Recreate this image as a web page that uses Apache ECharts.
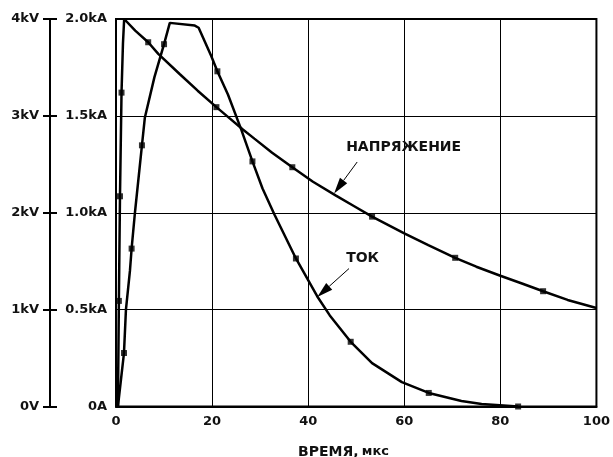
<!DOCTYPE html>
<html><head><meta charset="utf-8">
<script src="https://cdn.jsdelivr.net/npm/echarts@6/dist/echarts.min.js"></script>
<style>html,body{margin:0;padding:0;background:#fff}#c{width:613px;height:457px}</style>
</head><body><div id="c"></div>
<script>
// Time axis (мкс)
const xTicks = [0, 20, 40, 60, 80, 100];
// Left inner axis (current) and outer axis (voltage) labels
const kALabels = ['0A', '0.5kA', '1.0kA', '1.5kA', '2.0kA'];
const kVLabels = ['0V', '1kV', '2kV', '3kV', '4kV'];

// Voltage curve [time µs, kV]
const voltage = [
  [0.4, 0], [0.6, 1.09], [0.83, 2.17], [1.15, 3.24], [1.45, 3.75], [1.7, 4.0],
  [4.0, 3.88], [6.7, 3.76], [8.8, 3.64], [13.3, 3.43], [17.0, 3.26], [20.9, 3.09],
  [23.3, 2.99], [26.4, 2.86], [28.8, 2.765], [32.5, 2.62], [36.7, 2.47], [41.0, 2.32],
  [45.7, 2.18], [49.5, 2.07], [53.3, 1.96], [59.9, 1.79], [65.0, 1.665], [70.6, 1.535],
  [75.0, 1.443], [80.0, 1.35], [84.5, 1.27], [88.9, 1.19], [94.0, 1.10], [100, 1.016]
];
const voltageMarks = [
  [0.6, 1.09], [0.83, 2.17], [1.15, 3.24], [6.7, 3.76], [20.9, 3.09],
  [36.7, 2.47], [53.3, 1.96], [70.6, 1.535], [88.9, 1.19]
];

// Current curve [time µs, kA]
const current = [
  [0.4, 0], [1.66, 0.276], [2.07, 0.50], [2.9, 0.70], [3.25, 0.815], [3.94, 1.0],
  [5.4, 1.348], [6.0, 1.49], [8.0, 1.70], [10.0, 1.87], [11.2, 1.98], [11.5, 1.99],
  [16.4, 1.966], [17.2, 1.955], [19.8, 1.81], [21.1, 1.73], [23.3, 1.61], [26.0, 1.434],
  [28.4, 1.265], [30.5, 1.125], [33.0, 0.99], [37.45, 0.764], [41.9, 0.568], [44.5, 0.47],
  [48.85, 0.334], [53.3, 0.224], [59.5, 0.126], [65.1, 0.07], [71.9, 0.028], [76.1, 0.013],
  [83.7, 0]
];
const currentMarks = [
  [1.66, 0.276], [3.25, 0.815], [5.4, 1.348], [10.0, 1.87], [21.1, 1.73],
  [28.4, 1.265], [37.45, 0.764], [48.85, 0.334], [65.1, 0.07], [83.7, 0]
];

// Callouts: text anchor and arrow [from, tip] in (time, kA) coordinates
const callouts = [
  { text: 'НАПРЯЖЕНИЕ', at: [47.9, 1.327], from: [50.2, 1.262], tip: [45.4, 1.10] },
  { text: 'ТОК', at: [47.9, 0.755], from: [48.5, 0.712], tip: [41.9, 0.565] }
];

const FONT = 'DejaVu Sans';
const chart = echarts.init(document.getElementById('c'), null, { renderer: 'canvas' });

chart.setOption({
  animation: false,
  backgroundColor: '#fff',
  grid: { left: 116, right: 14.5, top: 19, bottom: 50.5, show: true, borderColor: '#000', borderWidth: 2 },
  xAxis: {
    type: 'value', min: 0, max: 100, interval: 20,
    axisLine: { show: true, lineStyle: { color: '#000', width: 2 } },
    axisTick: { show: false },
    splitLine: { show: true, lineStyle: { color: '#000', width: 1 } },
    axisLabel: { color: '#111', fontFamily: FONT, fontWeight: 'bold', fontSize: 13, margin: 9,
      formatter: v => xTicks.includes(v) ? String(v) : '' }
  },
  yAxis: [
    {
      type: 'value', min: 0, max: 2, interval: 0.5, position: 'left',
      axisLine: { show: false }, axisTick: { show: false },
      splitLine: { show: true, lineStyle: { color: '#000', width: 1 } },
      axisLabel: { color: '#111', fontFamily: FONT, fontWeight: 'bold', fontSize: 13, margin: 9,
        formatter: v => kALabels[Math.round(v / 0.5)] }
    },
    {
      type: 'value', min: 0, max: 4, interval: 1, position: 'left', offset: 66,
      axisLine: { show: true, lineStyle: { color: '#000', width: 2 } },
      axisTick: { show: true, inside: false, length: 7, lineStyle: { color: '#000', width: 2 } },
      splitLine: { show: false },
      axisLabel: { color: '#111', fontFamily: FONT, fontWeight: 'bold', fontSize: 13, margin: 11,
        formatter: v => kVLabels[Math.round(v)] }
    },
    {
      type: 'value', min: 0, max: 4, interval: 1, position: 'left', offset: 66,
      axisLine: { show: true, lineStyle: { color: '#000', width: 2 } },
      axisTick: { show: true, inside: true, length: 7, lineStyle: { color: '#000', width: 2 } },
      splitLine: { show: false },
      axisLabel: { show: false }
    }
  ],
  series: [
    { type: 'line', data: voltage, yAxisIndex: 1, showSymbol: false, symbol: 'none', z: 5,
      lineStyle: { color: '#000', width: 2.5 } },
    { type: 'scatter', data: voltageMarks, yAxisIndex: 1, symbol: 'rect', symbolSize: 6, z: 6,
      itemStyle: { color: '#000' } },
    { type: 'line', data: current, yAxisIndex: 0, showSymbol: false, symbol: 'none', z: 5,
      lineStyle: { color: '#000', width: 2.5 } },
    { type: 'scatter', data: currentMarks, yAxisIndex: 0, symbol: 'rect', symbolSize: 6, z: 6,
      itemStyle: { color: '#000' } }
  ]
});

function px(p) { return chart.convertToPixel({ xAxisIndex: 0, yAxisIndex: 0 }, p); }
const g = [];
callouts.forEach(c => {
  const a = px(c.at), f = px(c.from), t = px(c.tip);
  g.push({ type: 'text', left: a[0], top: a[1] - 9, z: 10,
    style: { text: c.text, font: 'bold 14px "' + FONT + '"', fill: '#111' } });
  const dx = t[0] - f[0], dy = t[1] - f[1], L = Math.hypot(dx, dy);
  const ux = dx / L, uy = dy / L, hl = 16, hw = 4.5;
  const bx = t[0] - ux * hl, by = t[1] - uy * hl;
  g.push({ type: 'line', z: 10, shape: { x1: f[0], y1: f[1], x2: bx, y2: by },
    style: { stroke: '#000', lineWidth: 1 } });
  g.push({ type: 'polygon', z: 10, shape: { points: [[t[0], t[1]],
    [bx - uy * hw, by + ux * hw], [bx + uy * hw, by - ux * hw]] }, style: { fill: '#000' } });
});
g.push({ type: 'text', left: 298, top: 445, z: 10,
  style: { rich: { a: { font: 'bold 14px "' + FONT + '"', fill: '#111' }, b: { font: 'bold 13px "' + FONT + '"', fill: '#111' } },
    text: '{a|ВРЕМЯ,} {b|мкс}' } });
chart.setOption({ graphic: g });
</script>
</body></html>
